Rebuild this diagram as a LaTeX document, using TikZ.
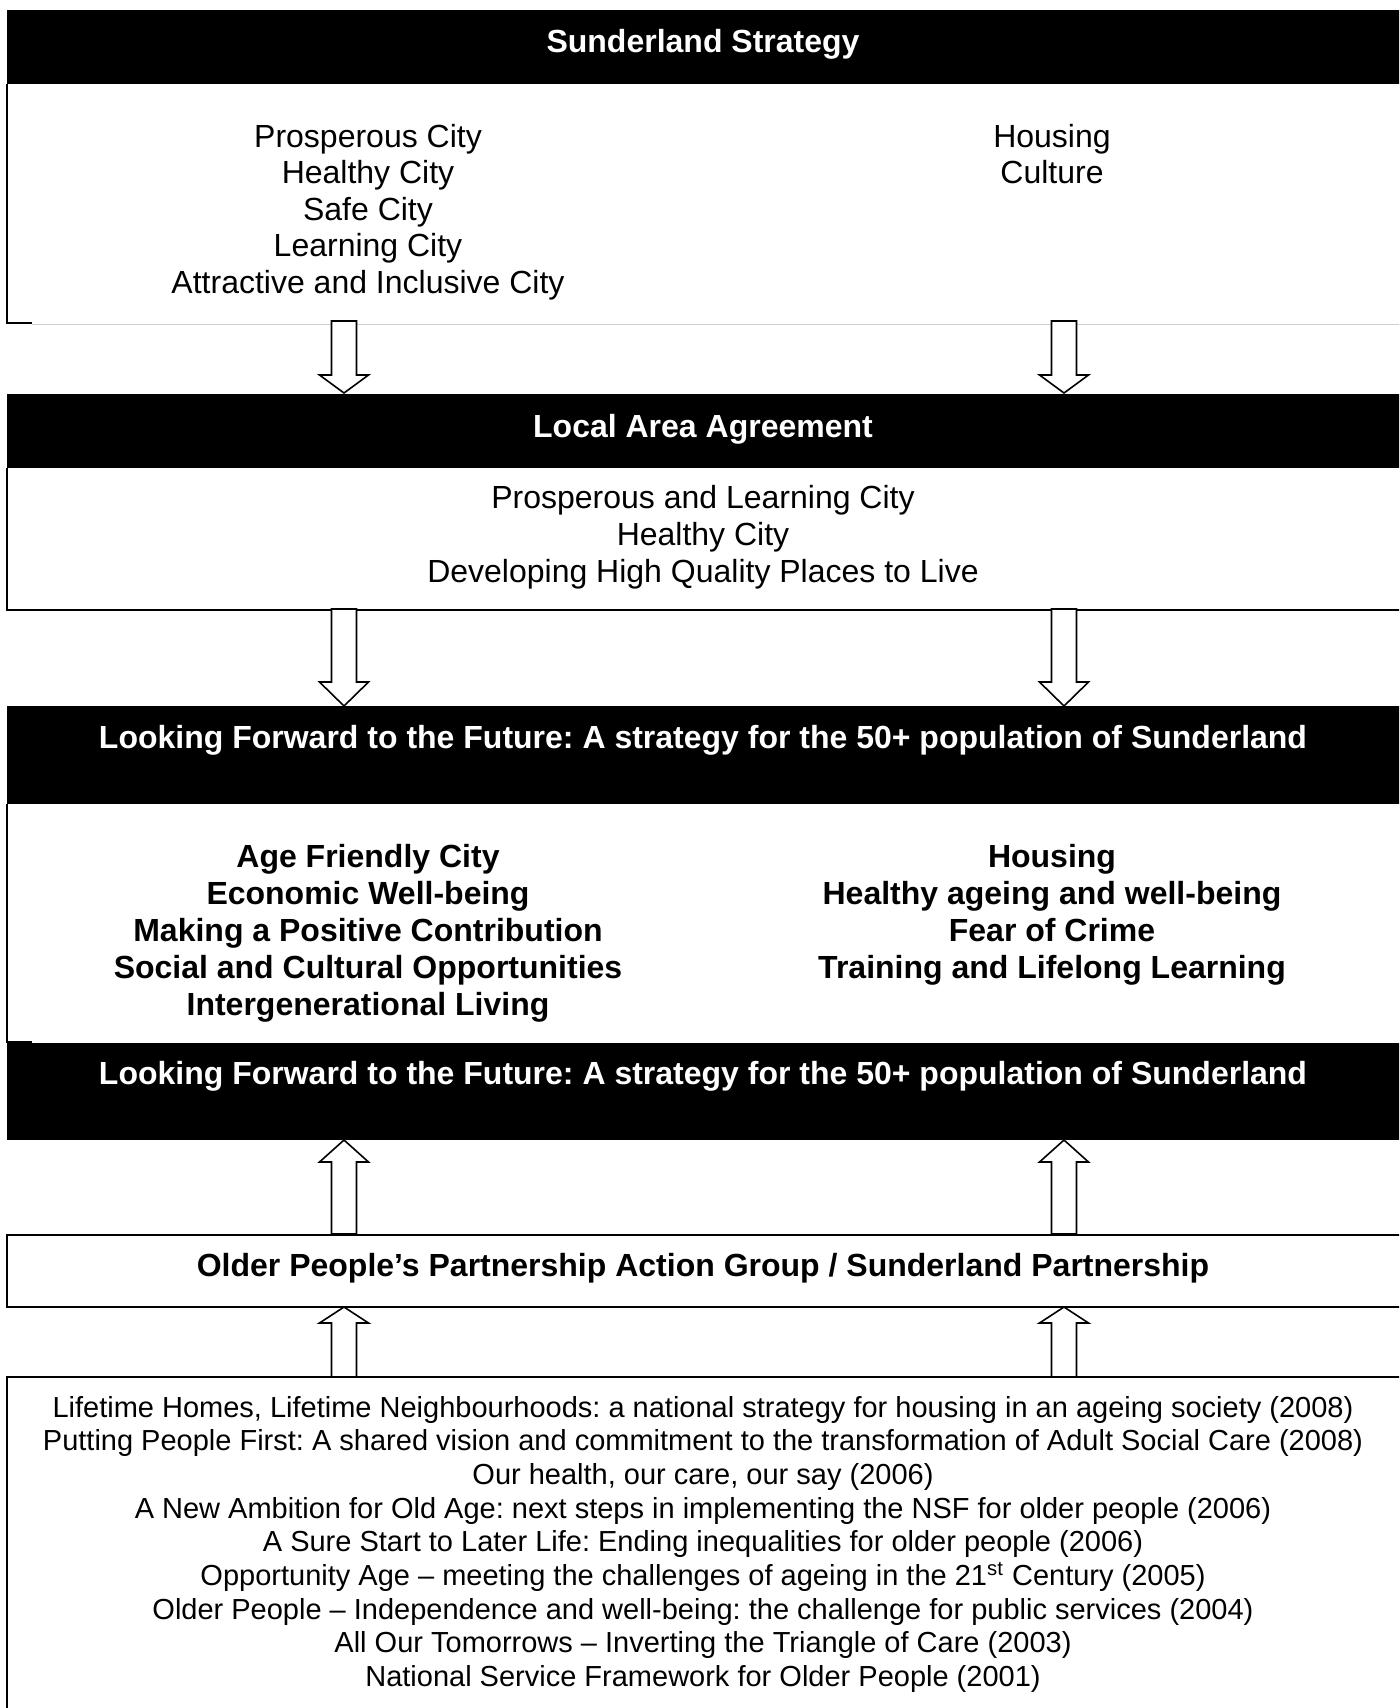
\documentclass[tikz,border=0pt]{standalone}
\usepackage{fontspec}
\setmainfont{Liberation Sans}
\frenchspacing
\newcommand\blockarrow[4]{% x, tail y, head-base y, tip y
  \draw[barrow] (#1-12.5,#2) -- (#1+12.5,#2) -- (#1+12.5,#3) -- (#1+24.5,#3)
    -- (#1,#4) -- (#1-24.5,#3) -- (#1-12.5,#3) -- cycle;}
\begin{document}
\begin{tikzpicture}[x=0.5pt,y=-0.5pt,
  band/.style={fill=black},
  border/.style={draw=black,line width=1pt},
  faint/.style={draw=black!18,line width=0.5pt},
  barrow/.style={draw=black,line width=0.8pt,fill=white,line join=miter},
  hdrtext/.style={text=white,font=\bfseries\fontsize{16}{18}\selectfont,anchor=base,inner sep=0pt},
  bodytext/.style={font=\fontsize{16}{18}\selectfont,anchor=base,inner sep=0pt},
  boldtext/.style={font=\bfseries\fontsize{16}{18}\selectfont,anchor=base,inner sep=0pt},
  listtext/.style={font=\fontsize{14.5}{17}\selectfont,anchor=base,inner sep=0pt}]
\useasboundingbox (0,0) rectangle (1399,1708);
\clip (0,0) rectangle (1399,1708);

% ---------- Box 1: Sunderland Strategy
\fill[band] (7,10) rectangle (1410,84);
\node[hdrtext] (h1) at (703,52.5) {Sunderland Strategy};
\draw[border] (7,84) -- (7,323) -- (32,323);
\draw[faint] (32,324) -- (1410,324);
\foreach \t [count=\i] in {Prosperous City,Healthy City,Safe City,Learning City,Attractive and Inclusive City}
  \node[bodytext] (s1l\i) at (368,{147+36.5*(\i-1)}) {\t};
\foreach \t [count=\i] in {Housing,Culture}
  \node[bodytext] (s1r\i) at (1052,{147+36.5*(\i-1)}) {\t};

% arrows 1
\blockarrow{344}{321}{375}{393}
\blockarrow{1064}{321}{375}{393}

% ---------- Box 2: Local Area Agreement
\fill[band] (7,394) rectangle (1410,468);
\node[hdrtext] (h2) at (703,437) {Local Area Agreement};
\draw[border] (7,468) -- (7,610) -- (1410,610);
\foreach \t [count=\i] in {Prosperous and Learning City,Healthy City,Developing High Quality Places to Live}
  \node[bodytext] (s2\i) at (703,{508+37*(\i-1)}) {\t};

% arrows 2
\blockarrow{344}{609}{682}{706}
\blockarrow{1064}{609}{682}{706}

% ---------- Box 3: Looking Forward (with themes)
\fill[band] (7,706) rectangle (1410,804);
\node[hdrtext] (h3) at (703,748) {Looking Forward to the Future: A strategy for the 50+ population of Sunderland};
\draw[border] (7,804) -- (7,1042) -- (32,1042);
\foreach \t [count=\i] in {Age Friendly City,Economic Well-being,Making a Positive Contribution,Social and Cultural Opportunities,Intergenerational Living}
  \node[boldtext] (s3l\i) at (368,{867+37*(\i-1)}) {\t};
\foreach \t [count=\i] in {Housing,Healthy ageing and well-being,Fear of Crime,Training and Lifelong Learning}
  \node[boldtext] (s3r\i) at (1052,{867+37*(\i-1)}) {\t};

% ---------- Box 4: Looking Forward (header only)
\fill[band] (7,1043) rectangle (1410,1140);
\node[hdrtext] (h4) at (703,1084) {Looking Forward to the Future: A strategy for the 50+ population of Sunderland};

% arrows 3 (up)
\blockarrow{344}{1234}{1162}{1140}
\blockarrow{1064}{1234}{1162}{1140}

% ---------- Box 5: Partnership
\draw[border] (1410,1235) -- (7,1235) -- (7,1307) -- (1410,1307);
\node[boldtext] (h5) at (703,1276) {Older People’s Partnership Action Group / Sunderland Partnership};

% arrows 4 (up)
\blockarrow{344}{1377}{1323}{1307}
\blockarrow{1064}{1377}{1323}{1307}

% ---------- Box 6: national policies
\draw[border] (1410,1377) -- (7,1377) -- (7,1720);
\node[listtext] (p1) at (703,1417) {Lifetime Homes, Lifetime Neighbourhoods: a national strategy for housing in an ageing society (2008)};
\node[listtext] (p2) at (703,1450.7) {Putting People First: A shared vision and commitment to the transformation of Adult Social Care (2008)};
\node[listtext] (p3) at (703,1484.4) {Our health, our care, our say (2006)};
\node[listtext] (p4) at (703,1518.1) {A New Ambition for Old Age: next steps in implementing the NSF for older people (2006)};
\node[listtext] (p5) at (703,1551.8) {A Sure Start to Later Life: Ending inequalities for older people (2006)};
\node[listtext] (p6) at (703,1585.5) {Opportunity Age – meeting the challenges of ageing in the 21\textsuperscript{st} Century (2005)};
\node[listtext] (p7) at (703,1619.2) {Older People – Independence and well-being: the challenge for public services (2004)};
\node[listtext] (p8) at (703,1652.9) {All Our Tomorrows – Inverting the Triangle of Care (2003)};
\node[listtext] (p9) at (703,1686.6) {National Service Framework for Older People (2001)};
\end{tikzpicture}
\end{document}
